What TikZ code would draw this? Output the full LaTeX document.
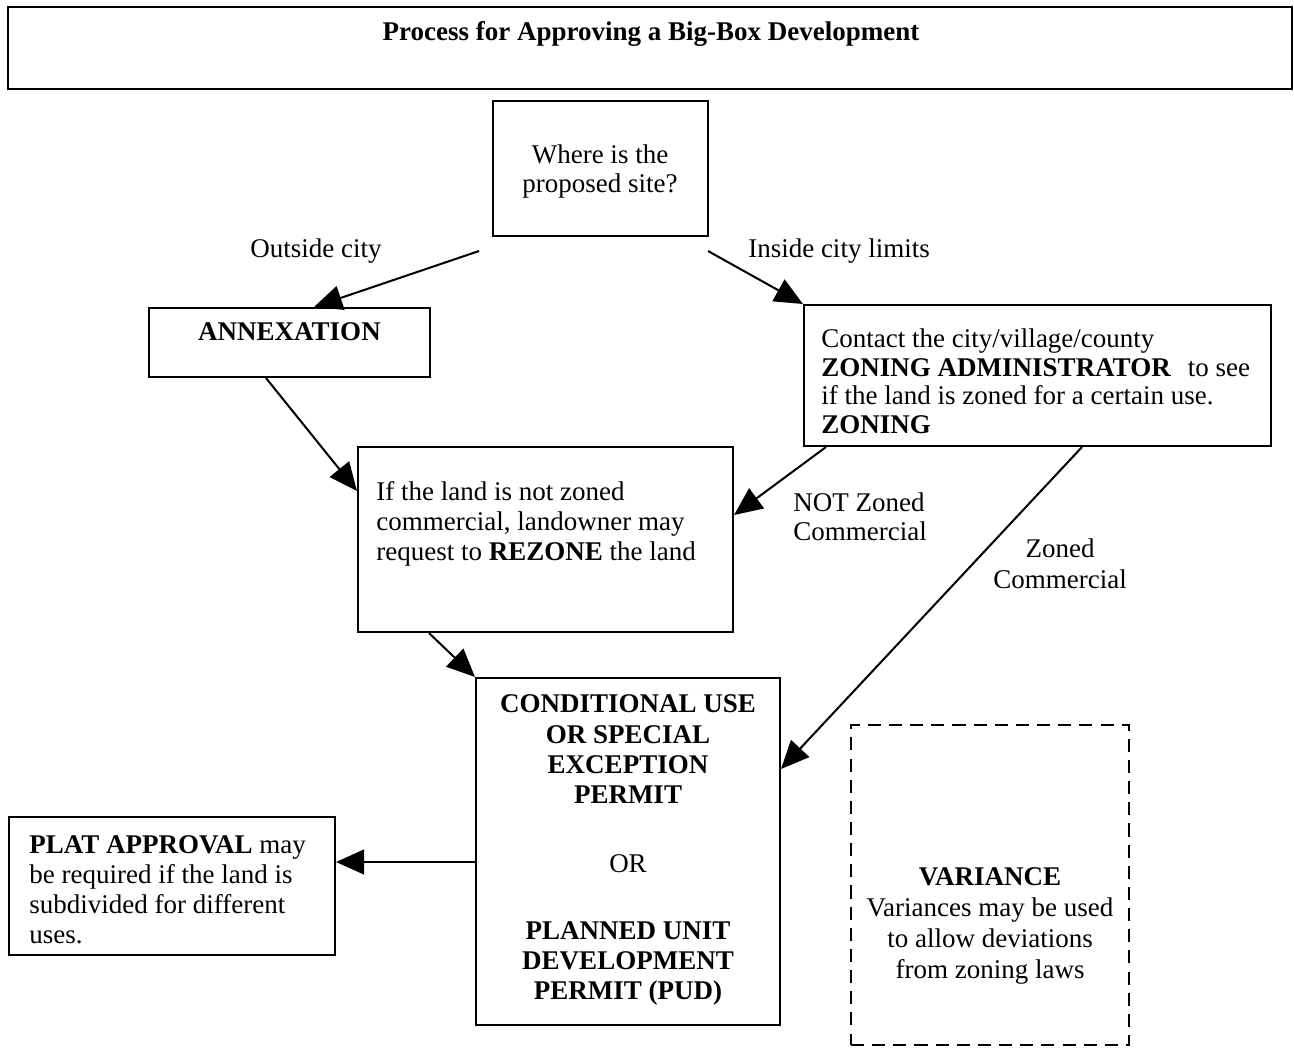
\documentclass[tikz,border=0pt]{standalone}
\usepackage{fontspec}
\setmainfont{Liberation Serif}
\usetikzlibrary{arrows.meta,fit,calc}
\newcommand\tstrut{\rule{0pt}{10pt}}
\begin{document}
\begin{tikzpicture}[x=0.4444pt,y=-0.4444pt,
  box/.style={draw, line width=0.9pt, inner sep=0pt},
  dbox/.style={draw, line width=0.9pt, inner sep=0pt, dash pattern=on 5.8pt off 3.6pt},
  txt/.style={inner sep=0pt, font=\fontsize{12}{13.33}\selectfont},
  tl/.style={txt, anchor=north west, align=left},
  tc/.style={txt, anchor=north, align=center},
  conn/.style={line width=0.9pt, -{Triangle[length=12.5pt,width=11pt]}}]
\useasboundingbox (0,0) rectangle (1294,1047);

% boxes
\node[box, fit={(8,7) (1292,89)}] (title) {};
\node[box, fit={(493,101) (708,236)}] (where) {};
\node[box, fit={(149,308) (430,377)}] (annex) {};
\node[box, fit={(804,305) (1271,446)}] (zoning) {};
\node[box, fit={(358,447) (733,632)}] (rezone) {};
\node[box, fit={(476,678) (780,1025)}] (cond) {};
\node[box, fit={(9,817) (335,955)}] (plat) {};
\node[dbox, fit={(851,725) (1129,1045)}] (variance) {};

% texts
\node[tc, font=\fontsize{12}{13.33}\selectfont\bfseries] (ttitle) at (651,17.5) {\tstrut Process for Approving a Big-Box Development};
\node[tc, font=\fontsize{12}{12.9}\selectfont] (twhere) at (600,141) {\tstrut Where is the\\proposed site?};
\node[tc] (tout) at (316,235) {\tstrut Outside city};
\node[tc] (tin) at (839,235) {\tstrut Inside city limits};
\node[tc, font=\fontsize{12}{13.33}\selectfont\bfseries] (tannex) at (289.5,318) {\tstrut ANNEXATION};
\node[tl, font=\fontsize{12}{12.67}\selectfont] (tzoning) at (821,325) {\tstrut Contact the city/village/county\\\textbf{ZONING ADMINISTRATOR}\hspace{7.5pt}to see\\if the land is zoned for a certain use.\\\textbf{ZONING}};
\node[tl] (trezone) at (376,478) {\tstrut If the land is not zoned\\commercial, landowner may\\request to \textbf{REZONE} the land};
\node[tl, font=\fontsize{12}{12.9}\selectfont] (tnot) at (793,489) {\tstrut NOT Zoned\\Commercial};
\node[tc, font=\fontsize{12}{13.7}\selectfont] (tzoned) at (1060,535) {\tstrut Zoned\\Commercial};
\node[tc, font=\fontsize{12}{13.47}\selectfont\bfseries] (tcond) at (628,690) {\tstrut CONDITIONAL USE\\OR SPECIAL\\EXCEPTION\\PERMIT\\[17.2pt]\mdseries OR\\[15.9pt]PLANNED UNIT\\DEVELOPMENT\\PERMIT (PUD)};
\node[tl] (tplat) at (29,831) {\tstrut\textbf{PLAT APPROVAL} may\\be required if the land is\\subdivided for different\\uses.};
\node[tc, font=\fontsize{12}{13.64}\selectfont] (tvar) at (990,863) {\tstrut\textbf{VARIANCE}\\Variances may be used\\to allow deviations\\from zoning laws};

% connector ends
\coordinate (w1) at ($(where.south west)+(-13,14)$);
\coordinate (w2) at ($(where.south east)+(-1,14)$);
\coordinate (a1) at ($(annex.north west)+(166,0)$);
\coordinate (a2) at ($(annex.south west)+(118,0)$);
\coordinate (r1) at ($(rezone.north west)+(0,45)$);
\coordinate (r2) at ($(rezone.north east)+(0,69)$);
\coordinate (r3) at ($(rezone.south west)+(72,0)$);
\coordinate (z1) at ($(zoning.south west)+(23,0)$);
\coordinate (z2) at ($(zoning.south west)+(279,0)$);
\coordinate (c1) at ($(cond.north east)+(0,92)$);
\coordinate (c2) at ($(cond.north west)+(0,185)$);

% connectors
\draw[conn] (w1) -- (a1);
\draw[conn] (w2) -- (zoning.north west);
\draw[conn] (a2) -- (r1);
\draw[conn] (z1) -- (r2);
\draw[conn] (z2) -- (c1);
\draw[conn] (r3) -- (cond.north west);
\draw[conn] (c2) -- (plat.east |- c2);
\end{tikzpicture}
\end{document}
